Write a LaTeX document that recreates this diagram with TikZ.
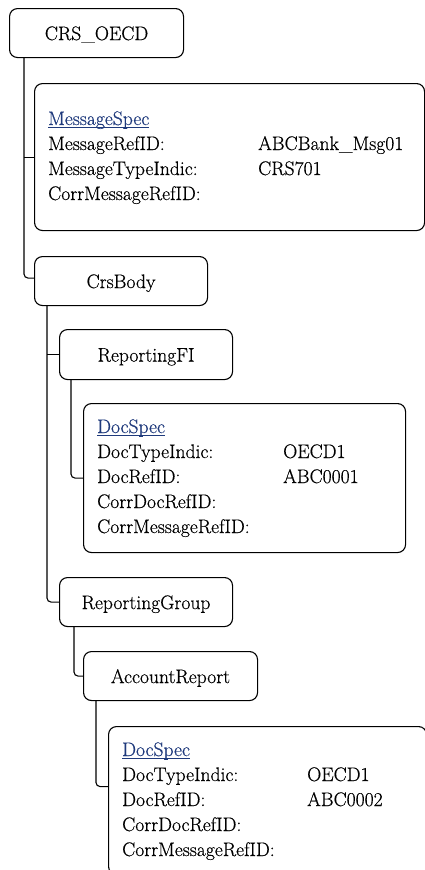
\documentclass[tikz,border=0pt]{standalone}
\usepackage{fontspec}
\newfontfamily\tfont{Latin Modern Roman}[FakeBold=0.5]
\definecolor{linkblue}{RGB}{31,58,124}
\newcommand{\myul}[1]{\setbox0\hbox{#1}\rlap{\rule[-2.6pt]{\wd0}{0.9pt}}\box0}
\begin{document}
\begin{tikzpicture}[x=1pt,y=-1pt,
  every node/.style={font=\tfont\fontsize{19.6pt}{25pt}\selectfont, inner sep=0pt},
  tbox/.style={draw, line width=1.1pt, rounded corners=8pt, anchor=north west, minimum height=49pt, text height=14pt, text depth=0pt},
  sbox/.style={draw, line width=1.1pt, rounded corners=8pt, anchor=north west},
  lbl/.style={anchor=base west},
  link/.style={anchor=base west, text=linkblue},
  conn/.style={draw, line width=1.1pt, rounded corners=4pt}]
\useasboundingbox (0,0) rectangle (425,870);
\clip (0,0) rectangle (425,870);

% boxes
\node[tbox, minimum width=174pt] (oecd) at (9,8) {CRS\_OECD};
\node[sbox, minimum width=390pt, minimum height=147pt] (msg) at (34,83) {};
\node[tbox, minimum width=173pt] (body) at (34,256) {CrsBody};
\node[tbox, minimum width=173pt, minimum height=50pt] (rfi) at (59,329) {ReportingFI};
\node[sbox, minimum width=322pt, minimum height=149pt] (ds1) at (83,403) {};
\node[tbox, minimum width=173pt] (rg) at (59,577) {ReportingGroup};
\node[tbox, minimum width=174pt] (ar) at (83,651) {AccountReport};
\node[sbox, minimum width=318pt, minimum height=148pt] (ds2) at (108,726) {};

% MessageSpec contents
\node[link] (msgt) at (48,125) {\myul{MessageSpec}};
\node[lbl] (m1) at (48,150) {MessageRefID:};
\node[lbl] (m1v) at (258,150) {ABCBank\_Msg01};
\node[lbl] (m2) at (48,175) {MessageTypeIndic:};
\node[lbl] (m2v) at (258,175) {CRS701};
\node[lbl] (m3) at (48,200) {CorrMessageRefID:};

% DocSpec 1 contents
\node[link] (d1t) at (97,433) {\myul{DocSpec}};
\node[lbl] (d11) at (97,458) {DocTypeIndic:};
\node[lbl] (d11v) at (283,458) {OECD1};
\node[lbl] (d12) at (97,483) {DocRefID:};
\node[lbl] (d12v) at (283,483) {ABC0001};
\node[lbl] (d13) at (97,508) {CorrDocRefID:};
\node[lbl] (d14) at (97,533) {CorrMessageRefID:};

% DocSpec 2 contents
\node[link] (d2t) at (122,756) {\myul{DocSpec}};
\node[lbl] (d21) at (122,781) {DocTypeIndic:};
\node[lbl] (d21v) at (307,781) {OECD1};
\node[lbl] (d22) at (122,806) {DocRefID:};
\node[lbl] (d22v) at (307,806) {ABC0002};
\node[lbl] (d23) at (122,831) {CorrDocRefID:};
\node[lbl] (d24) at (122,856) {CorrMessageRefID:};

% connectors
\coordinate (t1) at ([xshift=15pt]oecd.south west);
\draw[conn] (t1) |- ([yshift=3pt]body.west);
\draw[conn] (msg.west) -- (msg.west -| t1);

\coordinate (t2) at ([xshift=13pt]body.south west);
\draw[conn] (t2) |- (rg.west);
\draw[conn] (rfi.west) -- (rfi.west -| t2);

\coordinate (t3) at ([xshift=12pt]rfi.south west);
\draw[conn] (t3) |- (ds1.west);

\coordinate (t4) at ([xshift=15pt]rg.south west);
\draw[conn] (t4) |- (ar.west);

\coordinate (t5) at ([xshift=13pt]ar.south west);
\draw[conn] (t5) |- ([yshift=14pt]ds2.west);
\end{tikzpicture}
\end{document}
